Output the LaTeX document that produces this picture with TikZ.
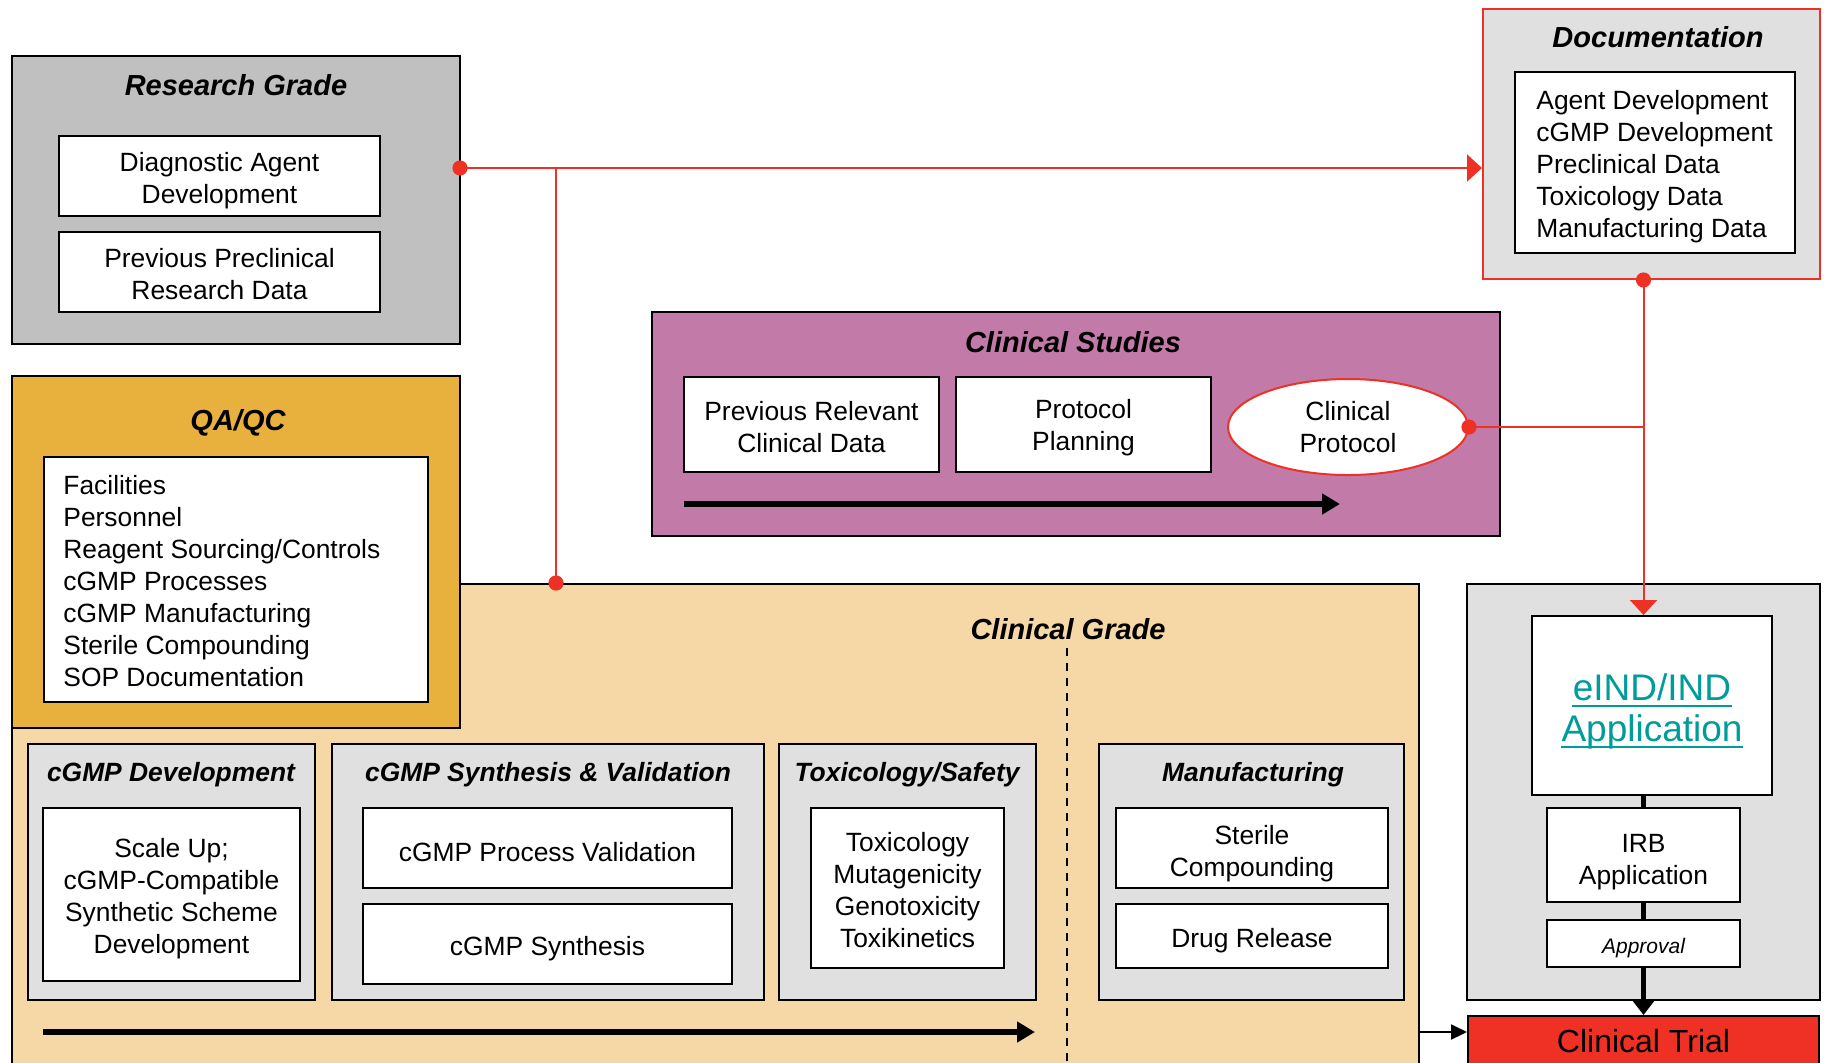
\documentclass[tikz,border=0pt]{standalone}
\usepackage{fontspec}
\setmainfont{Liberation Sans}
\usetikzlibrary{calc,arrows.meta,shapes.geometric}
\definecolor{rgray}{HTML}{C0C0C0}
\definecolor{lgray}{HTML}{E0E0E0}
\definecolor{qagold}{HTML}{E8B13E}
\definecolor{cgtan}{HTML}{F6D8A6}
\definecolor{csmauve}{HTML}{C27BA8}
\definecolor{myred}{HTML}{EE3124}
\definecolor{tealtxt}{HTML}{009C99}
\newcommand\liftline[1]{\rule{0pt}{#1pt}}
\tikzset{
  corners/.style n args={4}{at={({(#1+#3)/2},{(#2+#4)/2})}, minimum width={(#3-#1)*0.5pt}, minimum height={(#4-#2)*0.5pt}},
  bodyfont/.style={font=\fontsize{13.2}{16}\selectfont},
  box/.style={draw=black, line width=1pt, inner sep=0pt, align=center, rectangle},
  wbox/.style={box, fill=white, bodyfont},
  ttl/.style={inner sep=0pt, font=\fontsize{14.5}{17}\selectfont\bfseries\itshape},
  sttl/.style={inner sep=0pt, font=\fontsize{13.2}{16}\selectfont\bfseries\itshape},
  lst/.style={inner sep=0pt, align=left, bodyfont},
  indtxt/.style={inner sep=0pt, text=tealtxt, font=\fontsize{18.5}{21}\selectfont},
  ulline/.style={draw=tealtxt, line width=1.4pt},
  redline/.style={draw=myred, line width=1pt},
  redtip/.style={redline, -{Triangle[length=7.5pt,width=13.5pt]}},
  bigarrow/.style={line width=3pt, -{Triangle[length=9pt,width=10pt]}},
  vline/.style={line width=2.5pt},
  smallarrow/.style={line width=1pt, -{Triangle[length=8pt,width=7.5pt]}},
  dashline/.style={line width=0.7pt, dash pattern=on 4pt off 3.5pt},
}
\begin{document}
\begin{tikzpicture}[x=0.5pt,y=-0.5pt]
\useasboundingbox (0,0) rectangle (1824,1062);
\clip (0,0) rectangle (1824,1062);

% Clinical grade (background)
\node[box, fill=cgtan, corners={12}{584}{1419}{1100}] (cg) {};
\node[ttl] (cgT) at (1068,629) {Clinical Grade};
\coordinate (dashTop) at (1067,648);
\draw[dashline] (dashTop) -- (dashTop |- cg.south);

% QA/QC
\node[box, fill=qagold, corners={12}{376}{460}{728}] (qa) {};
\node[ttl] (qaT) at (238,423) {QA/QC};
\node[box, fill=white, corners={44}{457}{428}{702}] (qaL) {};
\node[lst, anchor=west] (qaTxt) at (63,581) {Facilities\\Personnel\\Reagent Sourcing/Controls\\cGMP Processes\\cGMP Manufacturing\\Sterile Compounding\\SOP Documentation};

% Research grade
\node[box, fill=rgray, corners={12}{56}{460}{344}] (research) {};
\node[ttl] (researchT) at (236,85) {Research Grade};
\node[wbox, corners={59}{136}{380}{216}] (diag) {\liftline{14.2}Diagnostic Agent\\Development};
\node[wbox, corners={59}{232}{380}{312}] (prevpre) {\liftline{12}Previous Preclinical\\Research Data};

% Documentation
\node[box, draw=myred, fill=lgray, corners={1483}{9}{1820}{279}] (doc) {};
\node[ttl] (docT) at (1658,37) {Documentation};
\node[box, fill=white, corners={1515}{72}{1795}{253}] (docL) {};
\node[lst, anchor=west] (docTxt) at (1536,167) {Agent Development\\cGMP Development\\Preclinical Data\\Toxicology Data\\Manufacturing Data};

% Clinical grade sub-boxes
\node[box, fill=lgray, corners={28}{744}{315}{1000}] (dev) {};
\node[sttl] (devT) at (171,775) {cGMP Development};
\node[wbox, corners={43}{808}{300}{981}] (devB) {\liftline{14.2}Scale Up;\\cGMP-Compatible\\Synthetic Scheme\\Development};

\node[box, fill=lgray, corners={332}{744}{764}{1000}] (syn) {};
\node[sttl] (synT) at (548,775) {cGMP Synthesis \& Validation};
\node[wbox, corners={363}{808}{732}{888}] (synV) {\liftline{14}cGMP Process Validation};
\node[wbox, corners={363}{904}{732}{984}] (synS) {\liftline{14}cGMP Synthesis};

\node[box, fill=lgray, corners={779}{744}{1036}{1000}] (tox) {};
\node[sttl] (toxT) at (907,775) {Toxicology/Safety};
\node[wbox, corners={811}{808}{1004}{968}] (toxB) {\liftline{12}Toxicology\\Mutagenicity\\Genotoxicity\\Toxikinetics};

\node[box, fill=lgray, corners={1099}{744}{1404}{1000}] (man) {};
\node[sttl] (manT) at (1253,775) {Manufacturing};
\node[wbox, corners={1116}{808}{1388}{888}] (manS) {\liftline{15.5}Sterile\\Compounding};
\node[wbox, corners={1116}{904}{1388}{968}] (manD) {\liftline{14}Drug Release};

\coordinate (cgArrS) at (43,1032);
\coordinate (cgArrE) at (1035,1032);
\draw[bigarrow] (cgArrS) -- (cgArrE);

% Clinical studies
\node[box, fill=csmauve, corners={652}{312}{1500}{536}] (cs) {};
\node[ttl] (csT) at (1073,342) {Clinical Studies};
\node[wbox, corners={684}{377}{939}{472}] (csPrev) {\liftline{12}Previous Relevant\\Clinical Data};
\node[wbox, corners={956}{377}{1211}{472}] (csPlan) {\liftline{13}Protocol\\Planning};
\node[ellipse, draw=myred, line width=1pt, fill=white, minimum width=120pt, minimum height=48pt, inner sep=0pt, align=center, bodyfont] (csProt) at (1348,427) {Clinical\\Protocol};
\coordinate (csArrS) at (684,504);
\coordinate (csArrE) at (1340,504);
\draw[bigarrow] (csArrS) -- (csArrE);

% IND / IRB
\node[box, fill=lgray, corners={1467}{584}{1820}{1000}] (ind) {};
\node[box, fill=white, corners={1532}{616}{1772}{795}] (eind) {};
\node[indtxt, anchor=base] (eindA) at (1652,700) {eIND/IND};
\node[indtxt, anchor=base] (eindB) at (1652,741) {Application};
\draw[ulline] ([yshift=-3pt]eindA.base west) -- ([yshift=-3pt]eindA.base east);
\draw[ulline] ([yshift=-3pt]eindB.base west) -- ([yshift=-3pt]eindB.base east);
\node[wbox, corners={1547}{808}{1740}{902}] (irb) {\liftline{16}IRB\\Application};
\node[box, fill=white, corners={1547}{920}{1740}{967}, font=\fontsize{10.5}{12}\selectfont\itshape] (appr) {\liftline{12.5}Approval};
\node[box, fill=myred, corners={1468}{1016}{1819}{1066}, font=\fontsize{16}{19}\selectfont] (trial) {Clinical Trial};

\draw[vline] (irb.north) -- (irb.north |- eind.south);
\draw[vline] (irb.south) -- (appr.north);
\draw[vline, -{Triangle[length=7.5pt,width=11pt]}] (appr.south) -- (trial.north);

\coordinate (tw) at ($(trial.west)+(0,-9)$);
\draw[smallarrow] (cg.east |- tw) -- (tw);

% Red connectors
\coordinate (rdot) at (460,168);
\coordinate (rbr) at (556,168);
\draw[redtip] (rdot) -- (doc.west |- rdot);
\draw[redline] (rbr) -- (rbr |- cg.north);
\fill[myred] (rdot) circle (3.8pt);
\fill[myred] (rbr |- cg.north) circle (3.8pt);

\coordinate (docDot) at ($(doc.south)+(-8,0)$);
\draw[redtip] (docDot) -- (docDot |- eind.north);
\draw[redline] (csProt.east) -- (csProt.east -| docDot);
\fill[myred] (docDot) circle (3.8pt);
\fill[myred] (csProt.east) circle (3.8pt);
\end{tikzpicture}
\end{document}
